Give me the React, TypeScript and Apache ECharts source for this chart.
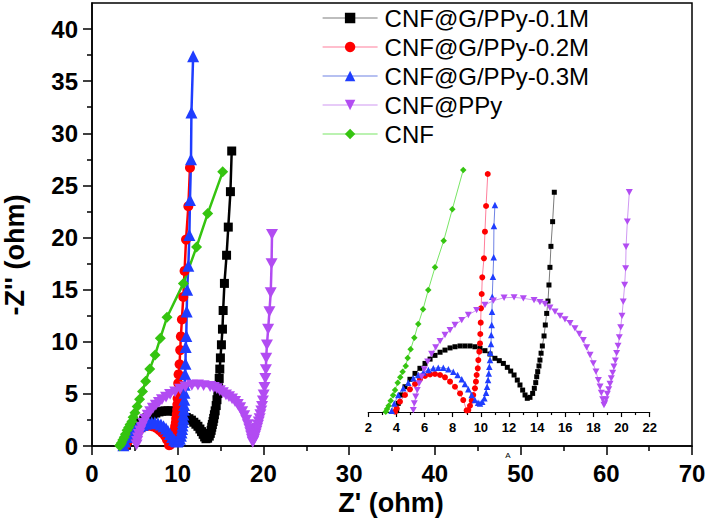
import { useEffect, useRef } from "react";
import * as echarts from "echarts";

// ---------- data (Z', -Z'') ----------
const NAMES = ["CNF@G/PPy-0.1M", "CNF@G/PPy-0.2M", "CNF@G/PPy-0.3M", "CNF@PPy", "CNF"];

const BLACK: [number, number][] = [
  [4.02, 0.07], [4.13, 0.44], [4.32, 0.87], [4.61, 1.29], [4.96, 1.67], [5.32, 1.97], [5.67, 2.23],
  [6.03, 2.48], [6.39, 2.7], [6.74, 2.89], [7.1, 3.05], [7.45, 3.16], [7.81, 3.27], [8.16, 3.33],
  [8.52, 3.37], [8.87, 3.37], [9.23, 3.37], [9.58, 3.33], [9.94, 3.25], [10.29, 3.13], [10.65, 2.96],
  [11.0, 2.74], [11.31, 2.62], [11.6, 2.48], [11.88, 2.28], [12.12, 2.09], [12.36, 1.89], [12.59, 1.63],
  [12.78, 1.38], [12.97, 1.12], [13.14, 0.87], [13.3, 0.7], [13.49, 0.75], [13.68, 0.95], [13.8, 1.21],
  [13.9, 1.5], [13.97, 1.8], [14.04, 2.06], [14.13, 2.35], [14.2, 2.65], [14.28, 3.0], [14.37, 3.37],
  [14.49, 3.88], [14.58, 4.44], [14.68, 5.03], [14.77, 5.66], [14.84, 6.48], [14.91, 7.38], [14.98, 8.45],
  [15.1, 9.71], [15.22, 11.21], [15.3, 13.0], [15.45, 15.6], [15.7, 18.3], [15.9, 21.0], [16.15, 24.4],
  [16.3, 28.3],
];

const RED: [number, number][] = [
  [3.9, 0.02], [4.02, 0.19], [4.25, 0.53], [4.61, 0.87], [4.96, 1.16], [5.32, 1.43], [5.67, 1.67],
  [6.03, 1.84], [6.39, 1.92], [6.74, 1.94], [7.1, 1.89], [7.45, 1.77], [7.81, 1.55], [8.16, 1.29],
  [8.52, 0.95], [8.75, 0.61], [8.99, 0.08], [9.11, 0.1], [9.23, 0.32], [9.35, 0.58], [9.46, 0.87],
  [9.58, 1.21], [9.65, 1.55], [9.7, 1.89], [9.78, 2.23], [9.82, 2.65], [9.89, 3.08], [9.94, 3.5],
  [9.96, 3.98], [9.99, 4.56], [10.01, 5.29], [10.06, 6.02], [10.1, 6.87], [10.22, 7.84], [10.29, 9.2],
  [10.37, 10.51], [10.49, 12.14], [10.65, 14.3], [10.8, 16.8], [10.97, 19.8], [11.24, 23.0], [11.43, 26.7],
];

const BLUE: [number, number][] = [
  [3.66, 0.07], [3.85, 0.44], [4.13, 0.87], [4.49, 1.21], [4.84, 1.5], [5.2, 1.72], [5.55, 1.89],
  [5.91, 2.02], [6.27, 2.14], [6.62, 2.23], [6.97, 2.26], [7.33, 2.26], [7.69, 2.18], [8.04, 2.06],
  [8.35, 1.89], [8.64, 1.67], [8.87, 1.43], [9.11, 1.16], [9.35, 0.87], [9.58, 0.61], [9.8, 0.47],
  [9.94, 0.44], [10.1, 0.53], [10.25, 0.7], [10.37, 0.98], [10.44, 1.29], [10.51, 1.63], [10.56, 1.97],
  [10.6, 2.31], [10.65, 2.65], [10.67, 3.03], [10.72, 3.47], [10.74, 3.93], [10.77, 4.44], [10.79, 5.12],
  [10.81, 5.88], [10.86, 6.9], [10.91, 7.89], [10.93, 9.49], [11.0, 10.56], [11.05, 12.9], [11.1, 15.0],
  [11.24, 17.3], [11.36, 20.25], [11.43, 23.6], [11.55, 27.5], [11.6, 32.0], [11.8, 37.4],
];

const PURPLE: [number, number][] = [
  [5.2, 0.1], [5.27, 0.44], [5.37, 0.78], [5.48, 1.12], [5.62, 1.46], [5.79, 1.8], [5.98, 2.18],
  [6.22, 2.57], [6.5, 2.96], [6.79, 3.3], [7.1, 3.62], [7.45, 3.93], [7.81, 4.18], [8.16, 4.44],
  [8.64, 4.69], [9.11, 4.95], [9.7, 5.2], [10.29, 5.46], [10.89, 5.68], [11.65, 5.83], [12.36, 5.85],
  [13.02, 5.8], [13.78, 5.71], [14.2, 5.61], [14.56, 5.51], [14.91, 5.32], [15.27, 5.12], [15.63, 4.9],
  [15.98, 4.73], [16.34, 4.53], [16.69, 4.27], [17.0, 3.98], [17.28, 3.67], [17.52, 3.3], [17.76, 2.91],
  [17.99, 2.48], [18.18, 2.06], [18.35, 1.63], [18.47, 1.29], [18.56, 0.98], [18.66, 0.65], [18.75, 0.36],
  [18.8, 0.44], [18.9, 0.65], [18.99, 0.92], [19.09, 1.16], [19.18, 1.43], [19.27, 1.72], [19.37, 2.0],
  [19.46, 2.31], [19.56, 2.62], [19.65, 3.0], [19.75, 3.37], [19.84, 3.81], [19.94, 4.32], [20.03, 4.9],
  [20.12, 5.63], [20.22, 6.48], [20.29, 7.33], [20.32, 8.43], [20.41, 9.71], [20.55, 11.21], [20.7, 12.9],
  [20.85, 14.7], [20.95, 17.5], [21.0, 20.3],
];

const GREEN: [number, number][] = [
  [3.24, 0.02], [3.33, 0.15], [3.45, 0.32], [3.59, 0.58], [3.76, 0.85], [3.9, 1.12], [4.09, 1.5],
  [4.27, 1.77], [4.44, 2.06], [4.66, 2.35], [4.8, 2.76], [5.01, 3.2], [5.27, 3.79], [5.55, 4.49],
  [5.89, 5.24], [6.26, 6.22], [6.74, 7.38], [7.36, 8.74], [7.97, 10.34], [8.75, 12.35], [10.66, 15.6],
  [12.2, 19.1], [13.5, 22.3], [15.25, 26.3],
];

const Y_MAJOR = [0, 5, 10, 15, 20, 25, 30, 35, 40];
const Y_MINOR = [2.5, 7.5, 12.5, 17.5, 22.5, 27.5, 32.5, 37.5];

const FONT = "'Liberation Sans', Arial, Helvetica, sans-serif";
const INV_TRI = "path://M0,0 L10,0 L5,9 Z";

const STYLES = [
  { data: BLACK, symbol: "rect", color: "#000000", light: "#7c7c7c", size: 9, insetSize: 5 },
  { data: RED, symbol: "circle", color: "#ff0000", light: "#ff7f9c", size: 10, insetSize: 6 },
  { data: BLUE, symbol: "triangle", color: "#1f3dff", light: "#6f82e4", size: 12, insetSize: 6.5 },
  { data: PURPLE, symbol: INV_TRI, color: "#b24cf2", light: "#cf98f2", size: 12, insetSize: 7 },
  { data: GREEN, symbol: "diamond", color: "#35c410", light: "#78e565", size: 11, insetSize: 6.5 },
];

const INSET_ZMAX = 12.5;

export default function App() {
  const ref = useRef<HTMLDivElement>(null);
  useEffect(() => {
    const chart = echarts.init(ref.current!, null, { renderer: "svg" });

    const mainSeries = STYLES.map((s, i) => ({
      name: NAMES[i],
      type: "line",
      xAxisIndex: 0,
      yAxisIndex: 0,
      data: s.data,
      symbol: s.symbol,
      symbolSize: s.size,
      showAllSymbol: true,
      symbolKeepAspect: true,
      lineStyle: { color: s.color, width: 2.5 },
      itemStyle: { color: s.color, borderWidth: 0 },
      emphasis: { disabled: true },
    }));
    const insetSeries = STYLES.map((s, i) => ({
      name: NAMES[i],
      type: "line",
      xAxisIndex: 1,
      yAxisIndex: 2,
      data: s.data.filter((p) => p[1] <= INSET_ZMAX),
      symbol: s.symbol,
      symbolSize: s.insetSize,
      showAllSymbol: true,
      symbolKeepAspect: true,
      lineStyle: { color: s.light, width: 1 },
      itemStyle: { color: s.color, borderWidth: 0 },
      emphasis: { disabled: true },
    }));

    const option: any = {
      animation: false,
      backgroundColor: "#ffffff",
      grid: [
        { left: 92, top: 3, right: 17, bottom: 78, show: true, borderColor: "#000", borderWidth: 1.5, backgroundColor: "transparent" },
        { left: 368.3, right: 59.3, top: 165, bottom: 110 },
      ],
      legend: {
        orient: "vertical",
        left: 317,
        top: 1,
        itemWidth: 55,
        itemHeight: 13,
        itemGap: 5,
        textStyle: { fontFamily: FONT, fontSize: 24, color: "#000", lineHeight: 24, padding: [0, 0, 0, 2] },
        data: STYLES.map((s, i) => ({
          name: NAMES[i],
          itemStyle: { color: s.color },
          lineStyle: { color: s.light, width: 1.2 },
        })),
        selectedMode: false,
      },
      xAxis: [
        {
          type: "value",
          gridIndex: 0,
          min: 0,
          max: 70,
          interval: 10,
          axisLine: { show: true, lineStyle: { color: "#000", width: 1.5 } },
          axisTick: { show: true, length: 9, lineStyle: { color: "#000", width: 1.5 } },
          minorTick: { show: true, splitNumber: 2, length: 5, lineStyle: { color: "#000", width: 1.5 } },
          splitLine: { show: false },
          axisLabel: { margin: 15, fontFamily: FONT, fontSize: 24, fontWeight: "bold", color: "#000" },
        },
        {
          type: "value",
          gridIndex: 1,
          min: 2,
          max: 22,
          interval: 2,
          axisLine: { show: true, lineStyle: { color: "#000", width: 1.2 } },
          axisTick: { show: true, length: 5, lineStyle: { color: "#000", width: 1.2 } },
          minorTick: { show: true, splitNumber: 2, length: 3, lineStyle: { color: "#000", width: 1.2 } },
          splitLine: { show: false },
          axisLabel: { margin: 7, fontFamily: FONT, fontSize: 13, fontWeight: "bold", color: "#000" },
        },
      ],
      yAxis: [
        {
          type: "value",
          gridIndex: 0,
          min: 0,
          max: 42.5,
          axisLine: { show: true, lineStyle: { color: "#000", width: 1.5 } },
          axisTick: { show: true, length: 9, customValues: Y_MAJOR, lineStyle: { color: "#000", width: 1.5 } },
          splitLine: { show: false },
          axisLabel: {
            customValues: Y_MAJOR,
            margin: 14,
            fontFamily: FONT,
            fontSize: 24,
            fontWeight: "bold",
            color: "#000",
          },
        },
        {
          type: "value",
          gridIndex: 0,
          position: "left",
          min: 0,
          max: 42.5,
          axisLine: { show: false },
          axisTick: { show: true, length: 5, customValues: Y_MINOR, lineStyle: { color: "#000", width: 1.5 } },
          axisLabel: { show: false },
          splitLine: { show: false },
        },
        {
          type: "value",
          gridIndex: 1,
          min: -0.1,
          max: 12.6,
          show: false,
          splitLine: { show: false },
        },
      ],
      graphic: [
        {
          type: "text",
          x: 15,
          y: 255,
          rotation: Math.PI / 2,
          style: {
            text: "-Z'' (ohm)",
            font: `bold 27px ${FONT}`,
            fill: "#000",
            textAlign: "center",
            textVerticalAlign: "middle",
          },
        },
        {
          type: "text",
          x: 391,
          y: 503,
          style: {
            text: "Z' (ohm)",
            font: `bold 27px ${FONT}`,
            fill: "#000",
            textAlign: "center",
            textVerticalAlign: "middle",
          },
        },
        {
          type: "text",
          x: 508,
          y: 455,
          style: { text: "A", font: `8px ${FONT}`, fill: "#000", textAlign: "center", textVerticalAlign: "middle" },
        },
      ],
      series: [...mainSeries, ...insetSeries],
    };
    chart.setOption(option);
    return () => chart.dispose();
  }, []);
  return <div ref={ref} style={{ position: "absolute", left: 0, top: 0, width: 709, height: 524 }} />;
}
